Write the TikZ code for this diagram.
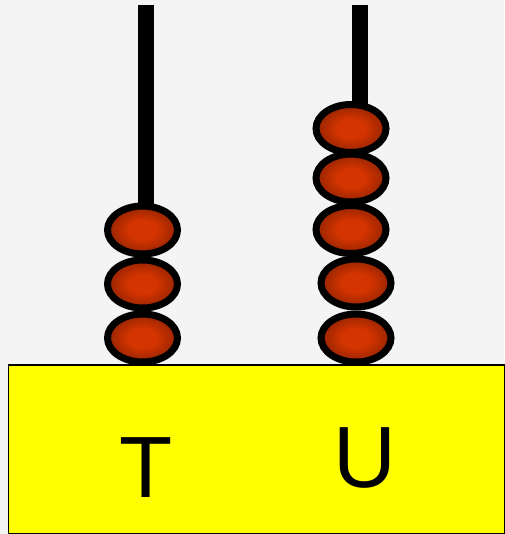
\documentclass[tikz,border=0pt]{standalone}
\usepackage{fontspec}
\setmainfont{Liberation Sans}
\usetikzlibrary{shapes.geometric}
\definecolor{bgcol}{RGB}{244,244,244}
\definecolor{beadin}{RGB}{212,52,0}
\definecolor{beadout}{RGB}{95,22,0}
\definecolor{baseyellow}{RGB}{255,255,0}
\pgfdeclareradialshading{beadshade}{\pgfpoint{0bp}{0bp}}{color(0bp)=(beadin); color(10bp)=(beadin); color(38bp)=(beadout); color(50bp)=(beadout)}
\tikzset{
  rod/.style={line width=16pt},
  bead/.style={ellipse, draw=black, line width=7pt, minimum width=70pt, minimum height=48pt, inner sep=0pt, shading=beadshade},
  base/.style={draw=black, line width=1.5pt, fill=baseyellow},
  lbl/.style={inner sep=0pt, font=\fontsize{87}{90}\selectfont}
}
\begin{document}
\begin{tikzpicture}[x=1pt,y=-1pt]
\useasboundingbox (0,0) rectangle (504,534);
\fill[bgcol] (0,0) rectangle (504,534);
% rods
\coordinate (tTop) at (146,5);
\coordinate (tBot) at (146,215);
\coordinate (uTop) at (359.5,5);
\coordinate (uBot) at (359.5,115);
\draw[rod] (tTop) -- (tBot);
\draw[rod] (uTop) -- (uBot);
% T beads
\node[bead] (t1) at (142.5,230) {};
\node[bead] (t2) at (142.5,284) {};
\node[bead] (t3) at (142.5,338) {};
% U beads
\node[bead] (u1) at (351,128.5) {};
\node[bead] (u2) at (351,178) {};
\node[bead] (u3) at (351,229.5) {};
\node[bead] (u4) at (356,283) {};
\node[bead] (u5) at (356,338) {};
% base
\node[base, minimum width=496pt, minimum height=168.5pt, inner sep=0pt, anchor=north west] (baseRect) at (7.5,364) {};
\node[lbl] (labT) at (146,468) {T};
\node[lbl] (labU) at (365,458) {U};
\end{tikzpicture}
\end{document}
